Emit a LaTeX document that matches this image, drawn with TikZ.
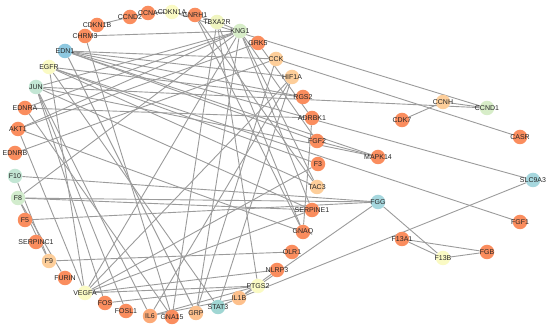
\documentclass[tikz,border=0pt]{standalone}
\usepackage{fontspec}
\setmainfont{Liberation Sans}
\usetikzlibrary{backgrounds}
\definecolor{cO}{RGB}{250,141,94}
\definecolor{cO2}{RGB}{252,170,120}
\definecolor{cLO}{RGB}{253,206,154}
\definecolor{cLO2}{RGB}{253,192,140}
\definecolor{cY}{RGB}{250,250,196}
\definecolor{cY2}{RGB}{240,245,192}
\definecolor{cG}{RGB}{215,237,200}
\definecolor{cG2}{RGB}{210,236,205}
\definecolor{cM}{RGB}{195,230,212}
\definecolor{cT}{RGB}{160,214,211}
\definecolor{cB}{RGB}{142,200,224}
\definecolor{cB2}{RGB}{166,215,222}
\definecolor{edgec}{RGB}{155,155,155}
\newcommand\gene[4]{\node[gn,fill=#4,label={[lbl]center:#1}] (#1) at (#2,#3) {};}
\begin{document}
\begin{tikzpicture}[x=1pt,y=-1pt,
  gn/.style={circle,minimum size=14.5pt,inner sep=0pt,draw=none},
  lbl/.style={font=\fontsize{7}{8}\selectfont,text=black!85},
  ed/.style={draw=edgec,line width=0.9pt}]
\useasboundingbox (0,0) rectangle (550,328);
\gene{CDKN1B}{97}{25}{cO}
\gene{CCND2}{130}{17}{cO}
\gene{CCNA}{148}{13}{cO}
\gene{CDKN1A}{172}{12}{cY}
\gene{GNRH1}{195}{15}{cO}
\gene{TBXA2R}{217}{22}{cY2}
\gene{KNG1}{240}{31}{cG}
\gene{GRK5}{258}{43}{cO}
\gene{CCK}{276}{59}{cLO}
\gene{HIF1A}{292}{77}{cLO}
\gene{RGS2}{303}{97}{cO}
\gene{ADRBK1}{312}{118}{cO}
\gene{FGF2}{317}{141}{cO}
\gene{F3}{318}{164}{cO}
\gene{TAC3}{317}{187}{cLO}
\gene{SERPINE1}{312}{210}{cO}
\gene{GNAQ}{303}{232}{cO}
\gene{OLR1}{292}{252}{cO}
\gene{NLRP3}{277}{270}{cO}
\gene{PTGS2}{258}{286}{cY}
\gene{IL1B}{239}{298}{cLO2}
\gene{STAT3}{218}{307}{cT}
\gene{GRP}{196}{313}{cLO2}
\gene{GNA15}{172}{317}{cO}
\gene{IL6}{150}{316}{cO2}
\gene{FOSL1}{126}{311}{cO}
\gene{FOS}{105}{303}{cO}
\gene{VEGFA}{85}{293}{cY}
\gene{FURIN}{65}{278}{cO}
\gene{F9}{49}{261}{cLO}
\gene{SERPINC1}{36}{242}{cO}
\gene{F5}{25}{220}{cO}
\gene{F8}{18}{198}{cG2}
\gene{F10}{15}{176}{cM}
\gene{EDNRB}{15}{153}{cO}
\gene{AKT1}{18}{129}{cO}
\gene{EDNRA}{25}{108}{cO}
\gene{JUN}{36}{87}{cM}
\gene{EGFR}{49}{67}{cY}
\gene{EDN1}{65}{51}{cB}
\gene{CHRM3}{85}{36}{cO}
\gene{MAPK14}{378}{157}{cO}
\gene{CDK7}{402}{120}{cO}
\gene{CCNH}{443}{102}{cLO}
\gene{CCND1}{487}{108}{cG}
\gene{CASR}{520}{137}{cO}
\gene{SLC9A3}{533}{180}{cB2}
\gene{FGF1}{520}{222}{cO}
\gene{FGG}{378}{202}{cB2}
\gene{F13A1}{402}{239}{cO}
\gene{F13B}{443}{258}{cY}
\gene{FGB}{487}{252}{cO}
\begin{scope}[on background layer]
\foreach \a/\b in {CDKN1B/CCND2,CCND2/CCNA,CCNA/CDKN1A,CDKN1A/CCND1,CCNH/CDK7,CCNH/CCND1,
  JUN/CCND1,TBXA2R/KNG1,GNRH1/TBXA2R,CHRM3/KNG1,EDNRA/KNG1,F8/KNG1,KNG1/JUN,KNG1/AKT1,
  KNG1/VEGFA,KNG1/GRP,KNG1/TAC3,KNG1/FGF2,KNG1/SERPINE1,TBXA2R/PTGS2,TBXA2R/GNAQ,
  TBXA2R/GNA15,GNRH1/GNAQ,GNRH1/TAC3,GRK5/ADRBK1,GRK5/AKT1,EDNRB/CCK,CCK/CASR,CCK/GRP,
  EDN1/CCK,EDN1/HIF1A,EDN1/RGS2,EDN1/SLC9A3,EDN1/FGF2,EDN1/MAPK14,EGFR/F3,EGFR/FGF1,
  EGFR/VEGFA,EGFR/STAT3,EGFR/RGS2,EGFR/TAC3,JUN/FOS,JUN/FOSL1,JUN/MAPK14,JUN/SERPINE1,
  JUN/IL6,EDNRA/GNA15,EDNRA/ADRBK1,AKT1/GNAQ,AKT1/VEGFA,HIF1A/VEGFA,ADRBK1/GNAQ,FGF2/MAPK14,
  F10/FGG,F8/FGG,F8/SERPINE1,F5/FGG,F10/F9,F8/F9,F8/FURIN,F9/OLR1,VEGFA/PTGS2,VEGFA/NLRP3,
  VEGFA/SERPINE1,VEGFA/F3,FOS/PTGS2,IL6/IL1B,IL6/PTGS2,STAT3/IL1B,IL1B/PTGS2,IL1B/NLRP3,
  IL1B/SLC9A3,FGG/PTGS2,FGG/F13B,F13A1/F13B,F13A1/FGB,F13B/FGB,IL6/HIF1A,STAT3/HIF1A,
  GNA15/CHRM3,GRP/EDN1}
  \draw[ed] (\a) -- (\b);
\end{scope}
\end{tikzpicture}
\end{document}
